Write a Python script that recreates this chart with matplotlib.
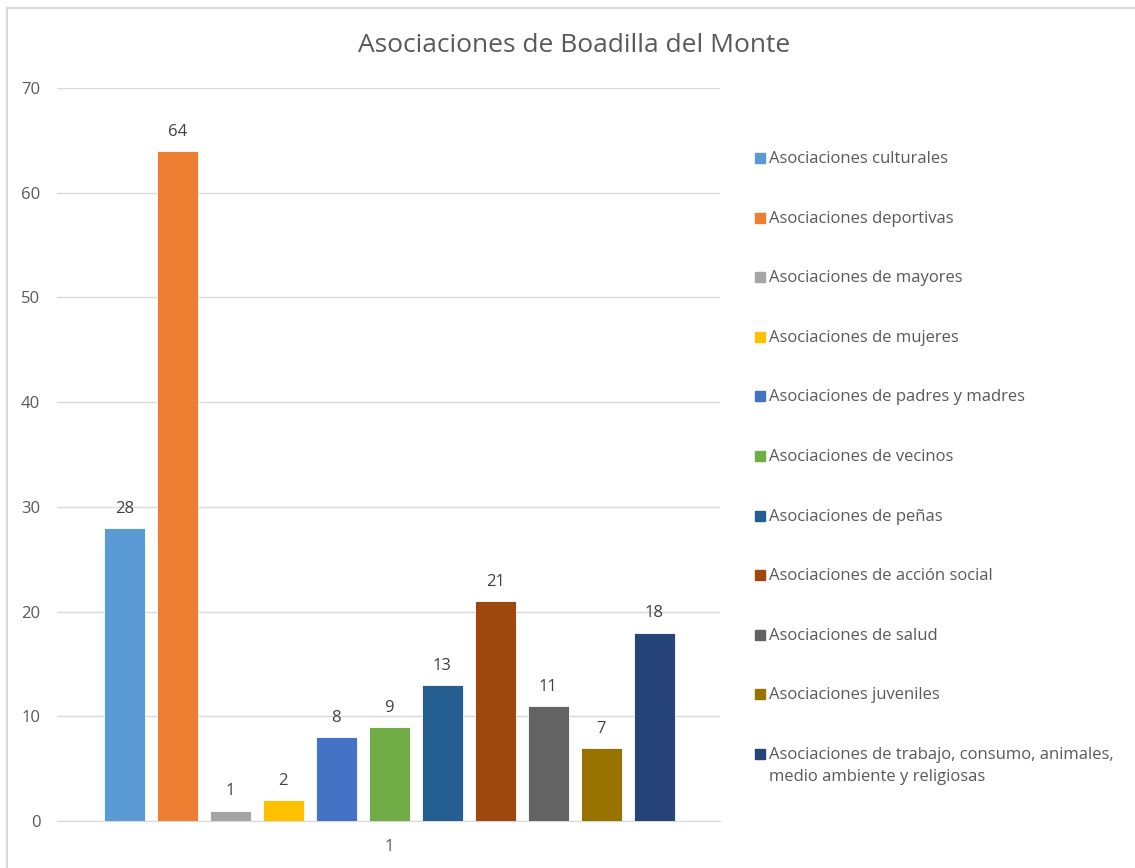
import matplotlib.pyplot as plt
from matplotlib.patches import Rectangle
from matplotlib.lines import Line2D

# DATA
categories = [
    "Asociaciones culturales",
    "Asociaciones deportivas",
    "Asociaciones de mayores",
    "Asociaciones de mujeres",
    "Asociaciones de padres y madres",
    "Asociaciones de vecinos",
    "Asociaciones de peñas",
    "Asociaciones de acción social",
    "Asociaciones de salud",
    "Asociaciones juveniles",
    "Asociaciones de trabajo, consumo, animales,\nmedio ambiente y religiosas",
]
values = [28, 64, 1, 2, 8, 9, 13, 21, 11, 7, 18]
colors = ["#5B9BD5", "#ED7D31", "#A5A5A5", "#FFC000", "#4472C4", "#70AD47",
          "#255E91", "#9E480E", "#636363", "#997300", "#264478"]
yticks = [0, 10, 20, 30, 40, 50, 60, 70]
xtick_label = "1"
title = "Asociaciones de Boadilla del Monte"

TEXT = "#595959"
GRID = "#D9D9D9"

plt.rcParams['font.family'] = ['Open Sans', 'DejaVu Sans']

W, H = 1135, 868
fig = plt.figure(figsize=(W / 100, H / 100), dpi=100)

# chart frame (top and left edges visible)
fig.add_artist(Line2D([7 / W, 1.0], [1 - 8 / H, 1 - 8 / H], color=GRID, lw=1.5))
fig.add_artist(Line2D([7 / W, 7 / W], [0, 1 - 8 / H], color=GRID, lw=1.5))

ax = fig.add_axes([57 / W, 47 / H, (720 - 57) / W, (821 - 88) / H])

x = list(range(len(values)))
bars = ax.bar(x, values, width=0.775, color=colors, edgecolor="white", linewidth=0.6, zorder=3)
for xi, v in zip(x, values):
    ax.annotate(str(v), (xi, v), xytext=(0, 8), textcoords="offset points",
                ha="center", va="bottom", fontsize=12, color="#404040")

ax.set_ylim(0, 70)
ax.set_xlim(-1.27, len(values) - 1 + 1.24)
ax.set_yticks(yticks)
ax.set_yticklabels([str(t) for t in yticks], color=TEXT, fontsize=12)
ax.set_xticks([(len(values) - 1) / 2])
ax.set_xticklabels([xtick_label], color=TEXT, fontsize=12)
ax.tick_params(axis="y", length=0, pad=12)
ax.tick_params(axis="x", length=0, pad=13)
ax.grid(axis="y", color=GRID, lw=1, zorder=0)
for s in ["top", "right", "left"]:
    ax.spines[s].set_visible(False)
ax.spines["bottom"].set_color(GRID)

fig.text(574 / W, 1 - 45 / H, title, ha="center", va="center", fontsize=19, color=TEXT)

# legend, drawn by hand to match spacing
y0, step = 158, 59.6
for i, (lab, col) in enumerate(zip(categories, colors)):
    yc = y0 + i * step
    fig.add_artist(Rectangle((755 / W, 1 - (yc + 5) / H), 10 / W, 10 / H,
                             color=col, transform=fig.transFigure))
    fig.text(769 / W, 1 - (yc - 7) / H, lab, ha="left", va="top", fontsize=12,
             color=TEXT, linespacing=1.5)

fig.savefig("out.png", dpi=100)
